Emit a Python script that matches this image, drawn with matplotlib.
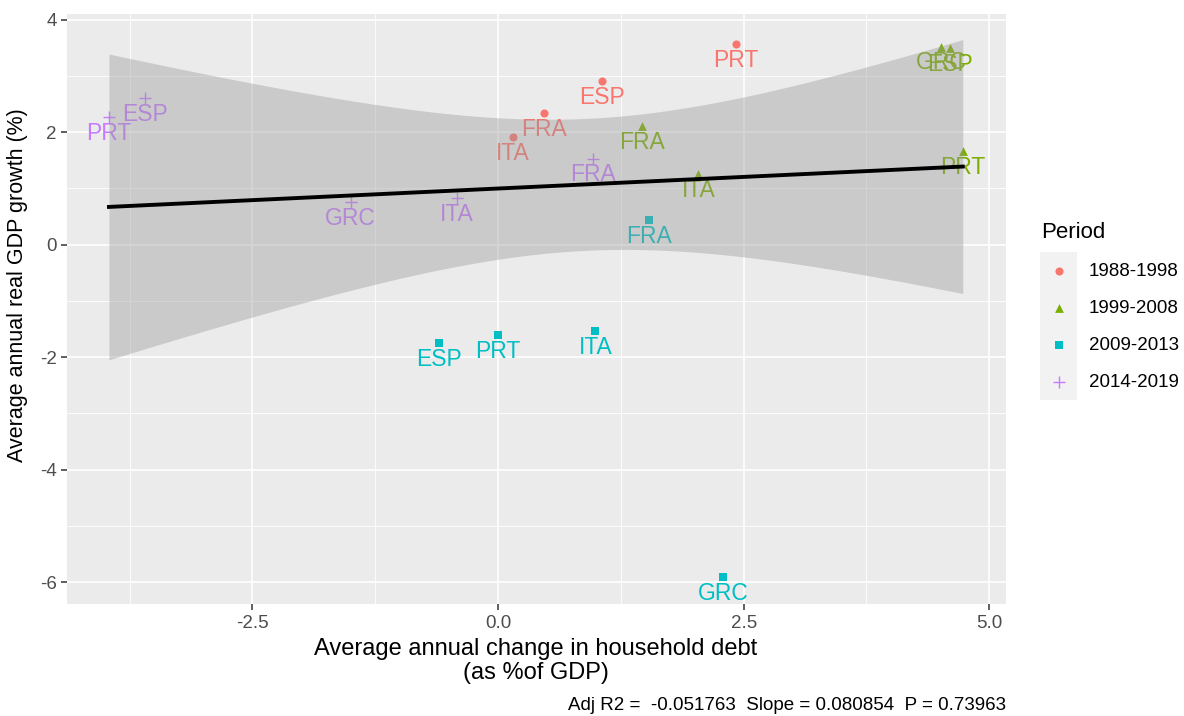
import matplotlib.pyplot as plt
import numpy as np

plt.rcParams['font.family'] = ['Liberation Sans', 'DejaVu Sans']
plt.rcParams['axes.unicode_minus'] = False

# data: household debt change (x) vs real GDP growth (y)
periods = ["1988-1998", "1999-2008", "2009-2013", "2014-2019"]
colors = ["#F8766D", "#7CAE00", "#00BFC4", "#C77CFF"]
markers = ["o", "^", "s", "+"]
sizes = [34, 40, 32, 70]

labels_88 = ["ITA", "FRA", "ESP", "PRT"]
x_88 = [0.15, 0.47, 1.06, 2.42]
y_88 = [1.91, 2.34, 2.91, 3.57]

labels_99 = ["FRA", "ITA", "GRC", "ESP", "PRT"]
x_99 = [1.47, 2.04, 4.51, 4.60, 4.73]
y_99 = [2.10, 1.26, 3.52, 3.49, 1.66]

labels_09 = ["FRA", "ESP", "PRT", "ITA", "GRC"]
x_09 = [1.54, -0.60, 0.00, 0.99, 2.29]
y_09 = [0.43, -1.75, -1.61, -1.54, -5.91]

labels_14 = ["PRT", "ESP", "GRC", "ITA", "FRA"]
x_14 = [-3.96, -3.59, -1.50, -0.42, 0.97]
y_14 = [2.27, 2.60, 0.75, 0.83, 1.53]

groups = [(labels_88, x_88, y_88), (labels_99, x_99, y_99),
          (labels_09, x_09, y_09), (labels_14, x_14, y_14)]

caption = "Adj R2 =  -0.051763  Slope = 0.080854  P = 0.73963"

fig = plt.figure(figsize=(11.84, 7.16), dpi=100)
ax = fig.add_axes([66.7/1184, 1-604/716, (1006-66.7)/1184, (604-14)/716])
ax.set_facecolor("#EBEBEB")

for (labs, xs, ys), col, mk, sz in zip(groups, colors, markers, sizes):
    lw = 1.0 if mk == "+" else 0
    ax.scatter(xs, ys, color=col, marker=mk, s=sz, linewidths=lw, zorder=3)
    for lab, xv, yv in zip(labs, xs, ys):
        ax.annotate(lab, (xv, yv), xytext=(0, -3.5), textcoords="offset points",
                    ha="center", va="top", color=col, fontsize=16.5, zorder=3)

# linear fit with 95% confidence band (drawn on top, like geom_smooth)
x_all = np.array(x_88 + x_99 + x_09 + x_14)
y_all = np.array(y_88 + y_99 + y_09 + y_14)
n = len(x_all)
slope, intercept = np.polyfit(x_all, y_all, 1)
resid = y_all - (slope * x_all + intercept)
s = np.sqrt(np.sum(resid**2) / (n - 2))
sxx = np.sum((x_all - x_all.mean())**2)
t_crit = 2.1098  # t(0.975, df=17)
xf = np.linspace(x_all.min(), x_all.max(), 80)
yf = slope * xf + intercept
se = s * np.sqrt(1/n + (xf - x_all.mean())**2 / sxx)
ax.fill_between(xf, yf - t_crit*se, yf + t_crit*se, color="#999999", alpha=0.4,
                linewidth=0, zorder=4)
ax.plot(xf, yf, color="black", lw=2.8, zorder=5)

ax.set_xlim(-4.39, 5.17)
ax.set_ylim(-6.39, 4.10)
ax.set_xticks([-2.5, 0.0, 2.5, 5.0])
ax.set_xticklabels(["-2.5", "0.0", "2.5", "5.0"])
ax.set_yticks([-6, -4, -2, 0, 2, 4])
ax.set_xticks([-3.75, -1.25, 1.25, 3.75], minor=True)
ax.set_yticks([-5, -3, -1, 1, 3], minor=True)
ax.grid(which="major", color="white", lw=1.2, zorder=0)
ax.grid(which="minor", color="white", lw=0.6, zorder=0)
ax.set_axisbelow(True)
for sp in ax.spines.values():
    sp.set_visible(False)
ax.tick_params(which="major", length=4, width=1.1, color="#333333",
               labelcolor="#4D4D4D", labelsize=13.5, pad=3)
ax.tick_params(which="minor", length=0)
ax.tick_params(axis="x", pad=4)

fig.text(18/1184, 1-285/716, "Average annual real GDP growth (%)", rotation=90,
         ha="center", va="center", fontsize=15.5)
fig.text(536/1184, 1-638/716, "Average annual change in household debt\n(as %of GDP)",
         ha="center", va="top", fontsize=17, linespacing=1.12)
fig.text(1006/1184, 1-706/716, caption, ha="right", va="center", fontsize=13.5)

# legend drawn by hand to get the grey key background
fig.text(1041/1184, 1-232/716, "Period", ha="left", va="center", fontsize=16)
key_ax = fig.add_axes([1040/1184, 1-400/716, 37/1184, 148/716])
key_ax.set_facecolor("#F2F2F2")
key_ax.set_xlim(0, 1)
key_ax.set_ylim(0, 4)
key_ax.set_xticks([])
key_ax.set_yticks([])
for sp in key_ax.spines.values():
    sp.set_visible(False)
for i, (per, col, mk, sz) in enumerate(zip(periods, colors, markers, sizes)):
    lw = 1.0 if mk == "+" else 0
    key_ax.scatter([0.5], [3.5 - i], color=col, marker=mk, s=sz, linewidths=lw)
    fig.text(1089/1184, 1-(271 + i*37.2)/716, per, ha="left", va="center", fontsize=13.5)

fig.savefig("out.png", dpi=100)
